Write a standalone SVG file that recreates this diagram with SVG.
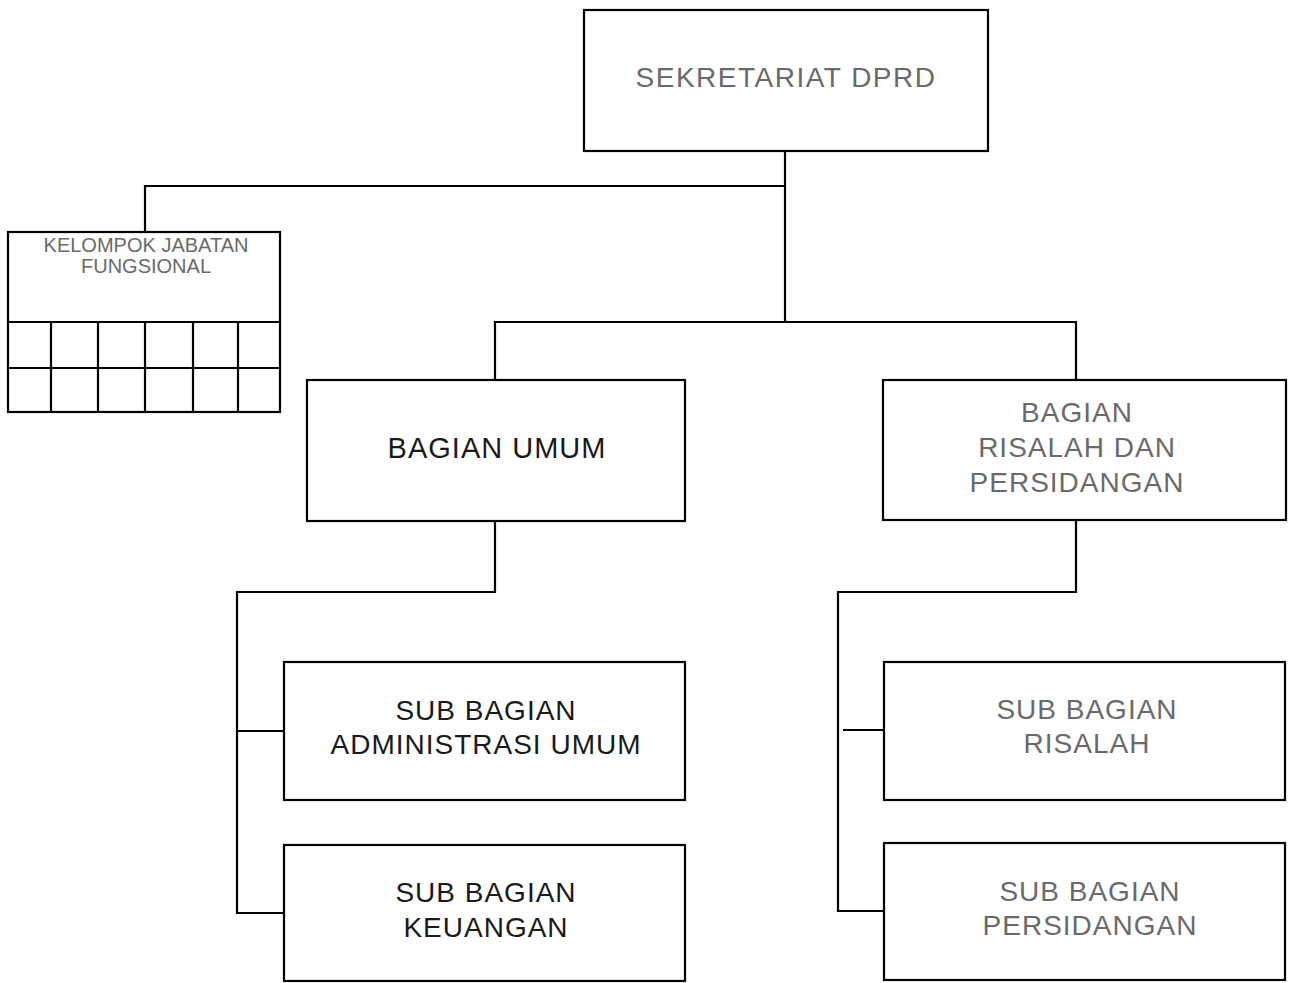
<svg xmlns="http://www.w3.org/2000/svg" width="1291" height="983" viewBox="0 0 1291 983">
<style>
.box{fill:#fff;stroke:#000;stroke-width:2.2}
.ln{fill:none;stroke:#000;stroke-width:2.2}
.t{font-family:"Liberation Sans",Arial,sans-serif;text-anchor:middle}
.dark{fill:#1a1a1a;font-size:28px;letter-spacing:1px}
.faded{fill:#6a6a6a;font-size:28px;letter-spacing:1px}
.small{fill:#6a6a6a;font-size:20px}
</style>
<rect width="1291" height="983" fill="#fff"/>
<g id="connectors">
<path class="ln" d="M785 151V322"/>
<path class="ln" d="M145 232V186H785"/>
<path class="ln" d="M495 380V322H1076V380"/>
<path class="ln" d="M495 521V592H237V913H284"/>
<path class="ln" d="M237 731H284"/>
<path class="ln" d="M1076 520V592H838V911H884"/>
<path class="ln" d="M843 730H884"/>
</g>
<g id="sekretariat">
<rect class="box" x="584" y="10" width="404" height="141"/>
<text class="t faded" x="786" y="87" style="letter-spacing:1.5px">SEKRETARIAT DPRD</text>
</g>
<g id="kelompok-jabatan-fungsional">
<rect class="box" x="8" y="232" width="272" height="180"/>
<text class="t small" x="146" y="252">KELOMPOK JABATAN</text>
<text class="t small" x="146" y="273">FUNGSIONAL</text>
<path class="ln" d="M8 322H280M8 368H280M51 322V412M98 322V412M145 322V412M193 322V412M238 322V412"/>
</g>
<g id="bagian-umum">
<rect class="box" x="307" y="380" width="378" height="141"/>
<text class="t dark" x="497" y="458" style="font-size:29px">BAGIAN UMUM</text>
</g>
<g id="bagian-risalah">
<rect class="box" x="883" y="380" width="403" height="140"/>
<text class="t faded" x="1077" y="422">BAGIAN</text>
<text class="t faded" x="1077" y="457">RISALAH DAN</text>
<text class="t faded" x="1077" y="492">PERSIDANGAN</text>
</g>
<g id="sub-administrasi">
<rect class="box" x="284" y="662" width="401" height="138"/>
<text class="t dark" x="486" y="720">SUB BAGIAN</text>
<text class="t dark" x="486" y="754">ADMINISTRASI UMUM</text>
</g>
<g id="sub-keuangan">
<rect class="box" x="284" y="845" width="401" height="136"/>
<text class="t dark" x="486" y="902">SUB BAGIAN</text>
<text class="t dark" x="486" y="937">KEUANGAN</text>
</g>
<g id="sub-risalah">
<rect class="box" x="884" y="662" width="401" height="138"/>
<text class="t faded" x="1087" y="719">SUB BAGIAN</text>
<text class="t faded" x="1087" y="753">RISALAH</text>
</g>
<g id="sub-persidangan">
<rect class="box" x="884" y="843" width="401" height="137"/>
<text class="t faded" x="1090" y="901">SUB BAGIAN</text>
<text class="t faded" x="1090" y="935">PERSIDANGAN</text>
</g>
</svg>
